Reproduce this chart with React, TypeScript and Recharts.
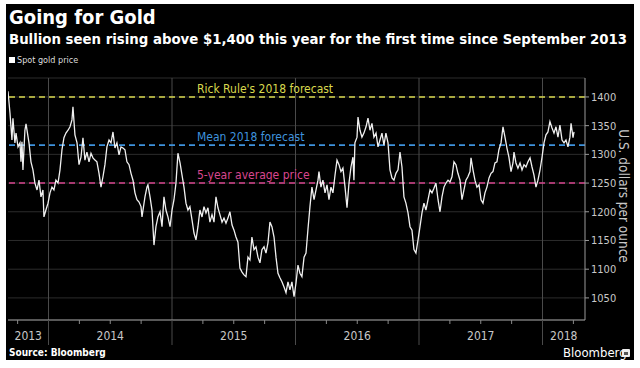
import React from 'react';
import { LineChart, Line, XAxis, YAxis, CartesianGrid, ReferenceLine } from 'recharts';

// Time of each reading, as fractional year
const dates = [
  2013.672, 2013.688, 2013.704, 2013.712, 2013.728, 2013.737, 2013.753, 2013.769, 2013.777, 2013.785,
  2013.793, 2013.809, 2013.818, 2013.842, 2013.858, 2013.874, 2013.890, 2013.907, 2013.923, 2013.939,
  2013.955, 2013.963, 2013.979, 2013.996, 2014.012, 2014.028, 2014.044, 2014.060, 2014.077, 2014.093,
  2014.109, 2014.125, 2014.141, 2014.158, 2014.174, 2014.190, 2014.198, 2014.214, 2014.231, 2014.247,
  2014.263, 2014.279, 2014.295, 2014.311, 2014.328, 2014.344, 2014.360, 2014.376, 2014.392, 2014.409,
  2014.425, 2014.441, 2014.457, 2014.473, 2014.490, 2014.506, 2014.522, 2014.538, 2014.554, 2014.571,
  2014.587, 2014.603, 2014.619, 2014.635, 2014.652, 2014.668, 2014.684, 2014.700, 2014.716, 2014.733,
  2014.749, 2014.757, 2014.781, 2014.797, 2014.805, 2014.822, 2014.838, 2014.854, 2014.870, 2014.886,
  2014.903, 2014.919, 2014.935, 2014.951, 2014.967, 2014.984, 2015.000, 2015.016, 2015.032, 2015.048,
  2015.065, 2015.081, 2015.097, 2015.113, 2015.129, 2015.145, 2015.162, 2015.178, 2015.194, 2015.210,
  2015.226, 2015.243, 2015.259, 2015.275, 2015.291, 2015.307, 2015.324, 2015.340, 2015.356, 2015.372,
  2015.388, 2015.405, 2015.421, 2015.437, 2015.453, 2015.469, 2015.486, 2015.502, 2015.518, 2015.534,
  2015.550, 2015.567, 2015.583, 2015.599, 2015.615, 2015.631, 2015.647, 2015.664, 2015.680, 2015.696,
  2015.712, 2015.728, 2015.745, 2015.761, 2015.777, 2015.793, 2015.809, 2015.826, 2015.842, 2015.858,
  2015.874, 2015.890, 2015.907, 2015.923, 2015.939, 2015.955, 2015.971, 2015.988, 2016.004, 2016.020,
  2016.036, 2016.052, 2016.069, 2016.085, 2016.101, 2016.117, 2016.133, 2016.150, 2016.166, 2016.182,
  2016.190, 2016.206, 2016.222, 2016.239, 2016.255, 2016.271, 2016.287, 2016.303, 2016.320, 2016.336,
  2016.352, 2016.368, 2016.384, 2016.401, 2016.417, 2016.433, 2016.449, 2016.465, 2016.473, 2016.481,
  2016.498, 2016.506, 2016.522, 2016.538, 2016.554, 2016.571, 2016.587, 2016.603, 2016.619, 2016.635,
  2016.652, 2016.668, 2016.684, 2016.700, 2016.716, 2016.732, 2016.749, 2016.765, 2016.781, 2016.797,
  2016.813, 2016.830, 2016.846, 2016.862, 2016.878, 2016.894, 2016.911, 2016.927, 2016.943, 2016.959,
  2016.975, 2016.992, 2017.008, 2017.024, 2017.040, 2017.056, 2017.073, 2017.089, 2017.105, 2017.121,
  2017.137, 2017.154, 2017.170, 2017.186, 2017.202, 2017.218, 2017.235, 2017.251, 2017.267, 2017.283,
  2017.299, 2017.315, 2017.332, 2017.348, 2017.364, 2017.380, 2017.396, 2017.413, 2017.421, 2017.437,
  2017.453, 2017.469, 2017.486, 2017.502, 2017.518, 2017.534, 2017.550, 2017.567, 2017.583, 2017.599,
  2017.615, 2017.631, 2017.647, 2017.664, 2017.680, 2017.696, 2017.712, 2017.728, 2017.745, 2017.761,
  2017.769, 2017.785, 2017.801, 2017.818, 2017.834, 2017.850, 2017.866, 2017.882, 2017.899, 2017.915,
  2017.931, 2017.947, 2017.963, 2017.980, 2017.996, 2018.012, 2018.028, 2018.044, 2018.060, 2018.077,
  2018.093, 2018.109, 2018.125, 2018.141, 2018.158, 2018.174, 2018.190, 2018.206, 2018.222, 2018.231,
  2018.247, 2018.255,
];

// Spot gold price, USD per ounce
const prices = [
  1410, 1372, 1325, 1363, 1320, 1337, 1313, 1320, 1287, 1322,
  1273, 1342, 1353, 1320, 1287, 1273, 1250, 1238, 1255, 1226,
  1238, 1191, 1203, 1215, 1233, 1243, 1238, 1255, 1250, 1273,
  1308, 1329, 1337, 1342, 1348, 1360, 1383, 1334, 1320, 1282,
  1295, 1329, 1290, 1304, 1287, 1302, 1294, 1290, 1287, 1267,
  1243, 1261, 1282, 1313, 1325, 1320, 1339, 1311, 1320, 1299,
  1313, 1311, 1308, 1287, 1282, 1267, 1255, 1233, 1221, 1217,
  1209, 1191, 1226, 1243, 1247, 1226, 1203, 1142, 1174, 1191,
  1200, 1174, 1226, 1203, 1191, 1174, 1203, 1221, 1250, 1302,
  1285, 1264, 1243, 1215, 1203, 1209, 1186, 1163, 1151, 1174,
  1203, 1191, 1209, 1198, 1207, 1182, 1195, 1182, 1226, 1207,
  1195, 1182, 1189, 1180, 1189, 1200, 1177, 1168, 1156, 1147,
  1102, 1095, 1090, 1087, 1121, 1116, 1156, 1134, 1139, 1121,
  1111, 1134, 1139, 1128, 1146, 1182, 1174, 1156, 1121, 1093,
  1085, 1078, 1069, 1059, 1078, 1064, 1078, 1052, 1076, 1107,
  1093, 1087, 1121, 1128, 1170, 1209, 1243, 1221, 1238, 1255,
  1270, 1243, 1255, 1233, 1247, 1221, 1243, 1233, 1264, 1290,
  1282, 1270, 1276, 1243, 1207, 1250, 1278, 1295, 1255, 1320,
  1330, 1365, 1342, 1330, 1337, 1348, 1363, 1342, 1354, 1330,
  1337, 1313, 1325, 1337, 1316, 1337, 1320, 1273, 1259, 1255,
  1267, 1273, 1304, 1278, 1226, 1215, 1198, 1174, 1168, 1134,
  1128, 1151, 1174, 1198, 1215, 1203, 1221, 1238, 1233, 1241,
  1250, 1221, 1200, 1226, 1243, 1250, 1255, 1252, 1261, 1287,
  1282, 1267, 1255, 1221, 1238, 1255, 1261, 1270, 1294, 1273,
  1255, 1243, 1247, 1221, 1215, 1233, 1243, 1259, 1267, 1270,
  1285, 1287, 1308, 1320, 1348, 1330, 1311, 1295, 1270, 1285,
  1304, 1285, 1276, 1285, 1273, 1282, 1278, 1287, 1294, 1278,
  1264, 1243, 1255, 1273, 1295, 1320, 1334, 1339, 1357, 1346,
  1337, 1348, 1330, 1351, 1325, 1320, 1325, 1313, 1330, 1354,
  1329, 1339,
];

const yTicks = [1050, 1100, 1150, 1200, 1250, 1300, 1350, 1400];
const yearStarts = [2014, 2015, 2016, 2017, 2018];
const quarterTicks = [
  2013.75, 2014, 2014.25, 2014.5, 2014.75, 2015, 2015.25, 2015.5, 2015.75,
  2016, 2016.25, 2016.5, 2016.75, 2017, 2017.25, 2017.5, 2017.75, 2018, 2018.25,
];
const yearLabelPos = [2013.836, 2014.5, 2015.5, 2016.5, 2017.5, 2018.172];
const yearLabels = ['2013', '2014', '2015', '2016', '2017', '2018'];

const refValues = [1400, 1316, 1250];
const refLabels = ["Rick Rule's 2018 forecast", 'Mean 2018 forecast', '5-year average price'];
const refColors = ['#d9d94e', '#3f93dd', '#d8468f'];

const xDomain = [2013.672, 2018.344];
const yDomain = [1011.5, 1433];

const data = dates.map((t, i) => ({ t, price: prices[i] }));
const allXTicks = Array.from(new Set([...quarterTicks, ...yearLabelPos])).sort((a, b) => a - b);

const FONT = '"DejaVu Sans Condensed", "Liberation Sans Narrow", "DejaVu Sans", sans-serif';

const XTick = (props: any) => {
  const { x, y, payload } = props;
  const v = payload.value as number;
  const out: React.ReactNode[] = [];
  if (yearStarts.includes(v)) {
    out.push(<line key="y" x1={x} x2={x} y1={y} y2={y + 25} stroke="#4a4a4a" strokeWidth={1} />);
  } else if (quarterTicks.includes(v)) {
    out.push(<line key="q" x1={x} x2={x} y1={y} y2={y + 4} stroke="#888" strokeWidth={1} />);
  }
  const li = yearLabelPos.indexOf(v);
  if (li >= 0) {
    out.push(
      <text key="l" x={x} y={y + 20} textAnchor="middle" fill="#c8c8c8" fontSize={12} fontFamily={FONT}>
        {yearLabels[li]}
      </text>
    );
  }
  return <g>{out}</g>;
};

export default function App() {
  return (
    <div style={{ position: 'absolute', left: 0, top: 0, width: 640, height: 368, background: '#fff', overflow: 'hidden' }}>
      <div style={{ position: 'absolute', left: 6, top: 4, width: 628, height: 356, background: '#000' }} />
      <div style={{ position: 'absolute', left: 9, top: 5, color: '#fff', fontFamily: FONT, fontWeight: 'bold', fontSize: 20, whiteSpace: 'nowrap' }}>
        Going for Gold
      </div>
      <div style={{ position: 'absolute', left: 9, top: 30, color: '#fff', fontFamily: FONT, fontWeight: 'bold', fontSize: 14.8, whiteSpace: 'nowrap' }}>
        Bullion seen rising above $1,400 this year for the first time since September 2013
      </div>
      <div style={{ position: 'absolute', left: 9, top: 55, color: '#ddd', fontFamily: FONT, fontSize: 9, whiteSpace: 'nowrap', display: 'flex', alignItems: 'center' }}>
        <span style={{ display: 'inline-block', width: 6, height: 6, background: '#fff', marginRight: 2 }} />
        Spot gold price
      </div>
      <div style={{ position: 'absolute', left: 0, top: 0 }}>
        <LineChart width={640} height={368} data={data} margin={{ top: 78, left: 8, right: 10, bottom: 8 }}>
          <CartesianGrid vertical={false} stroke="#2c2c2c" />
          {yearStarts.map((yr) => (
            <ReferenceLine key={yr} x={yr} stroke="#4a4a4a" strokeWidth={1} ifOverflow="extendDomain" />
          ))}
          <XAxis
            dataKey="t"
            type="number"
            domain={xDomain}
            allowDataOverflow
            ticks={allXTicks}
            interval={0}
            tick={<XTick />}
            tickLine={false}
            tickSize={0}
            tickMargin={0}
            height={40}
            axisLine={{ stroke: '#9a9a9a' }}
          />
          <YAxis
            orientation="right"
            type="number"
            domain={yDomain}
            allowDataOverflow
            ticks={yTicks}
            width={45}
            tickSize={4}
            tickMargin={2}
            axisLine={{ stroke: '#9a9a9a' }}
            tickLine={{ stroke: '#9a9a9a' }}
            tick={{ fill: '#c8c8c8', fontSize: 11, fontFamily: FONT }}
          />
          {refValues.map((v, i) => (
            <ReferenceLine
              key={v}
              y={v}
              stroke={refColors[i]}
              strokeWidth={1.6}
              strokeDasharray="6 4"
              label={(p: any) => (
                <text x={p.viewBox.x + 189} y={p.viewBox.y - 4} fill={refColors[i]} fontSize={12} fontFamily={FONT}>
                  {refLabels[i]}
                </text>
              )}
            />
          ))}
          <Line type="linear" dataKey="price" stroke="#f0f0f0" strokeWidth={1.3} dot={false} isAnimationActive={false} />
        </LineChart>
      </div>
      <div
        style={{
          position: 'absolute', left: 624, top: 196, transform: 'translate(-50%, -50%) rotate(90deg)',
          color: '#c8c8c8', fontFamily: FONT, fontSize: 13.5, whiteSpace: 'nowrap',
        }}
      >
        U.S. dollars per ounce
      </div>
      <div style={{ position: 'absolute', left: 9, top: 347, color: '#fff', fontFamily: FONT, fontWeight: 'bold', fontSize: 10, whiteSpace: 'nowrap' }}>
        Source: Bloomberg
      </div>
      <div style={{ position: 'absolute', left: 563, top: 345, color: '#fff', fontFamily: FONT, fontSize: 13, whiteSpace: 'nowrap' }}>
        Bloomberg
      </div>
      <div style={{ position: 'absolute', left: 622, top: 349, width: 8, height: 8, background: '#eee', borderRadius: 1 }}>
        <div style={{ position: 'absolute', left: 2, top: 3, width: 4, height: 3, background: '#555' }} />
      </div>
    </div>
  );
}
